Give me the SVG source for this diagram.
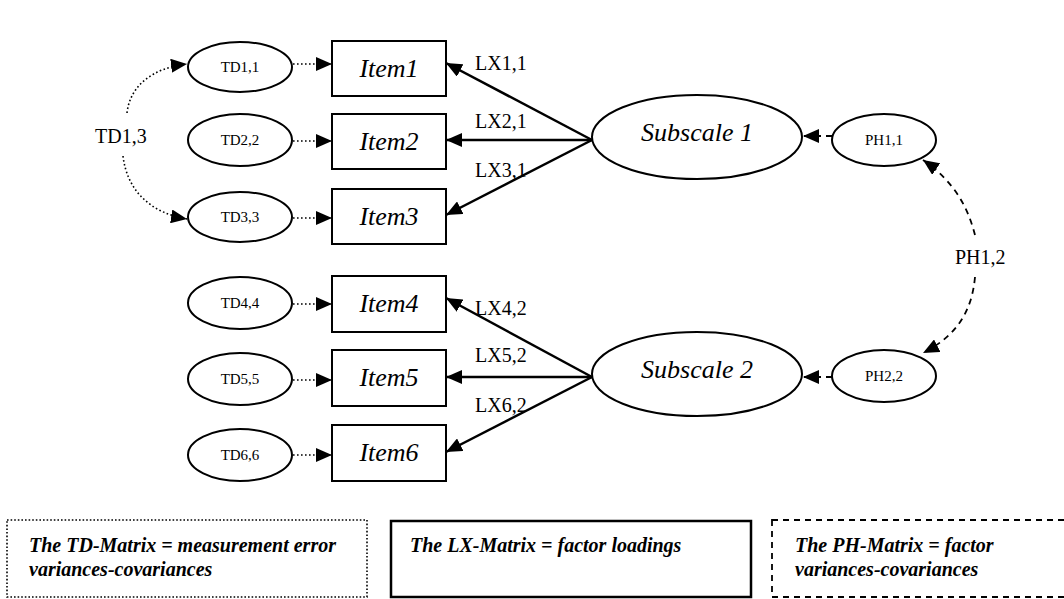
<svg xmlns="http://www.w3.org/2000/svg" width="1064" height="599" viewBox="0 0 1064 599" font-family="Liberation Serif, Times New Roman, serif">
  <style>
    .node { fill: #fff; stroke: #000; stroke-width: 2; }
    text { fill: #000; }
    .err { font-size: 15px; text-anchor: middle; }
    .item { font-size: 26px; font-style: italic; text-anchor: middle; }
    .lbl { font-size: 20px; }
    .legend { font-size: 20px; font-style: italic; font-weight: bold; }
    .solid { fill: none; stroke: #000; stroke-width: 2.5; }
    .dot { fill: none; stroke: #000; stroke-width: 1.6; stroke-dasharray: 1.6 2.4; }
    .dash { fill: none; stroke: #000; stroke-width: 1.8; stroke-dasharray: 6 5; }
  </style>
  <defs>
    <marker id="head" markerUnits="userSpaceOnUse" markerWidth="16" markerHeight="14" refX="16" refY="7" orient="auto">
      <path d="M0,0 L16,7 L0,14 z" fill="#000"/>
    </marker>
  </defs>

  <!-- connectors -->
  <g id="connectors">
    <!-- error terms to items -->
    <path class="dot" d="M293,64 H332" marker-end="url(#head)"/>
    <path class="dot" d="M293,141 H332" marker-end="url(#head)"/>
    <path class="dot" d="M293,218 H332" marker-end="url(#head)"/>
    <path class="dot" d="M293,304 H332" marker-end="url(#head)"/>
    <path class="dot" d="M293,380 H332" marker-end="url(#head)"/>
    <path class="dot" d="M293,455 H332" marker-end="url(#head)"/>
    <!-- error covariance TD1,3 -->
    <path class="dot" d="M127,113 C130,86 152,68 187,64" marker-end="url(#head)"/>
    <path class="dot" d="M123,156 C127,190 150,213 187,219" marker-end="url(#head)"/>
    <!-- factor loadings -->
    <path class="solid" d="M592,140 L446,63" marker-end="url(#head)"/>
    <path class="solid" d="M592,140 L446,140" marker-end="url(#head)"/>
    <path class="solid" d="M592,140 L446,215" marker-end="url(#head)"/>
    <path class="solid" d="M592,377 L446,298" marker-end="url(#head)"/>
    <path class="solid" d="M592,377 L446,377" marker-end="url(#head)"/>
    <path class="solid" d="M592,377 L446,452" marker-end="url(#head)"/>
    <!-- factor variances -->
    <path class="dash" d="M832,136 H803" marker-end="url(#head)"/>
    <path class="dash" d="M832,377 H803" marker-end="url(#head)"/>
    <!-- factor covariance PH1,2 -->
    <path class="dash" d="M975,235 C968,208 955,182 923,160" marker-end="url(#head)"/>
    <path class="dash" d="M975,277 C972,310 958,335 923,353" marker-end="url(#head)"/>
    <!-- labels -->
    <text class="lbl" x="95" y="143">TD1,3</text>
    <text class="lbl" x="475" y="70">LX1,1</text>
    <text class="lbl" x="475" y="128">LX2,1</text>
    <text class="lbl" x="475" y="177">LX3,1</text>
    <text class="lbl" x="475" y="315">LX4,2</text>
    <text class="lbl" x="475" y="362">LX5,2</text>
    <text class="lbl" x="475" y="412">LX6,2</text>
    <text class="lbl" x="955" y="264">PH1,2</text>
  </g>

  <!-- error terms -->
  <g id="td11"><ellipse class="node" cx="240" cy="67" rx="52" ry="25"/><text class="err" x="240" y="72">TD1,1</text></g>
  <g id="td22"><ellipse class="node" cx="240" cy="140" rx="52" ry="26"/><text class="err" x="240" y="145">TD2,2</text></g>
  <g id="td33"><ellipse class="node" cx="240" cy="217" rx="52" ry="25"/><text class="err" x="240" y="222">TD3,3</text></g>
  <g id="td44"><ellipse class="node" cx="240" cy="303" rx="52" ry="26"/><text class="err" x="240" y="308">TD4,4</text></g>
  <g id="td55"><ellipse class="node" cx="240" cy="379" rx="52" ry="26"/><text class="err" x="240" y="384">TD5,5</text></g>
  <g id="td66"><ellipse class="node" cx="240" cy="455" rx="52" ry="26"/><text class="err" x="240" y="460">TD6,6</text></g>

  <!-- observed items -->
  <g id="item1"><rect class="node" x="332" y="41" width="114" height="55"/><text class="item" x="389" y="77">Item1</text></g>
  <g id="item2"><rect class="node" x="332" y="114" width="114" height="55"/><text class="item" x="389" y="150">Item2</text></g>
  <g id="item3"><rect class="node" x="332" y="189" width="114" height="55"/><text class="item" x="389" y="225">Item3</text></g>
  <g id="item4"><rect class="node" x="332" y="276" width="114" height="56"/><text class="item" x="389" y="312">Item4</text></g>
  <g id="item5"><rect class="node" x="332" y="350" width="114" height="56"/><text class="item" x="389" y="386">Item5</text></g>
  <g id="item6"><rect class="node" x="332" y="425" width="114" height="56"/><text class="item" x="389" y="461">Item6</text></g>

  <!-- latent factors -->
  <g id="subscale1"><ellipse class="node" cx="697" cy="137" rx="105" ry="42"/><text class="item" x="697" y="141">Subscale 1</text></g>
  <g id="subscale2"><ellipse class="node" cx="697" cy="374" rx="105" ry="42"/><text class="item" x="697" y="378">Subscale 2</text></g>

  <!-- factor variance terms -->
  <g id="ph11"><ellipse class="node" cx="884" cy="140" rx="52" ry="26"/><text class="err" x="884" y="145">PH1,1</text></g>
  <g id="ph22"><ellipse class="node" cx="884" cy="376" rx="52" ry="26"/><text class="err" x="884" y="381">PH2,2</text></g>

  <!-- legend -->
  <g id="legend-td">
    <rect x="7" y="520" width="360" height="77" fill="#fff" stroke="#000" stroke-width="1.6" stroke-dasharray="1.6 2"/>
    <text class="legend" x="29" y="552">The TD-Matrix = measurement error</text>
    <text class="legend" x="29" y="576">variances-covariances</text>
  </g>
  <g id="legend-lx">
    <rect x="391" y="521" width="360" height="76" fill="#fff" stroke="#000" stroke-width="2.5"/>
    <text class="legend" x="410" y="552">The LX-Matrix = factor loadings</text>
  </g>
  <g id="legend-ph">
    <rect x="772" y="520" width="300" height="77" fill="#fff" stroke="#000" stroke-width="1.8" stroke-dasharray="6 5"/>
    <text class="legend" x="795" y="552">The PH-Matrix = factor</text>
    <text class="legend" x="795" y="576">variances-covariances</text>
  </g>
</svg>
